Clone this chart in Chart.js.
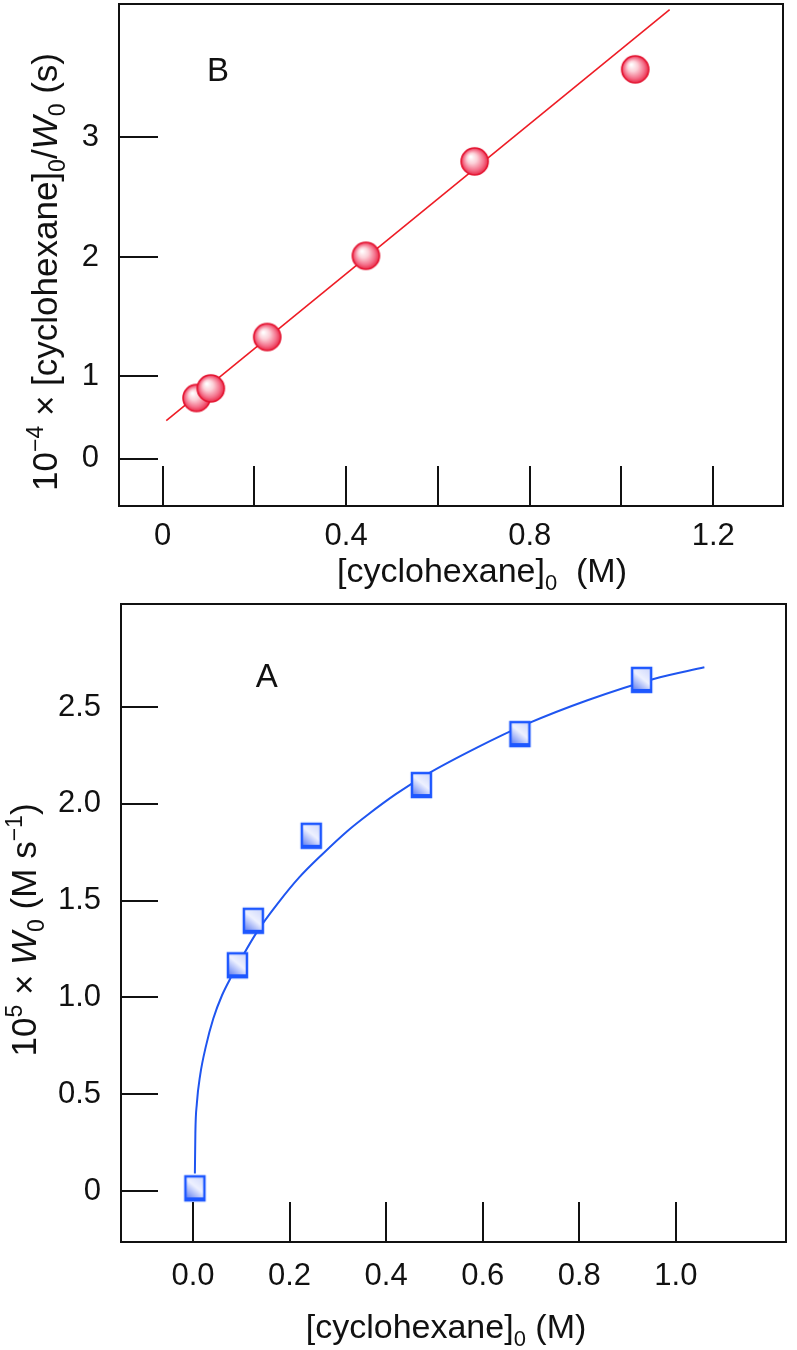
<!DOCTYPE html>
<html>
<head>
<meta charset="utf-8">
<title>Cyclohexane kinetics</title>
<script src="https://cdn.jsdelivr.net/npm/chart.js@4.4.1/dist/chart.umd.min.js"></script>
<style>
  html, body { margin: 0; padding: 0; background: #fff; }
  .panel { position: absolute; left: 0; }
  #chartB { top: 0; }
  #chartA { top: 590px; }
</style>
</head>
<body>
<canvas id="chartB" class="panel" width="797" height="590"></canvas>
<canvas id="chartA" class="panel" width="797" height="760"></canvas>
<script>
// panel B: [cyclohexane]0 / W0 against [cyclohexane]0
const bConc = [0.074, 0.105, 0.228, 0.443, 0.680, 1.030];
const bRatio = [0.82, 0.90, 1.33, 2.01, 2.80, 3.57];
const bFitConc = [0.008, 1.105];
const bFitRatio = [0.63, 4.07];
const bXTicks = [0, 0.2, 0.4, 0.6, 0.8, 1.0, 1.2];
const bXLabels = ['0', '', '0.4', '', '0.8', '', '1.2'];
const bYTicks = [0.31, 1, 2, 3];   // the "0" mark is off the even spacing in the original
const bYLabels = ['0', '1', '2', '3'];

// panel A: W0 against [cyclohexane]0
const aConc = [0.004, 0.092, 0.125, 0.245, 0.473, 0.677, 0.929];
const aRate = [0.014, 1.166, 1.396, 1.835, 2.097, 2.360, 2.640];
const aFitConc = [0.004, 0.005, 0.008, 0.015, 0.027, 0.042, 0.060, 0.080, 0.102, 0.133, 0.177, 0.220, 0.268, 0.320, 0.360, 0.420, 0.483, 0.588, 0.689, 0.817, 0.954, 1.059];
const aFitRate = [0.091, 0.300, 0.450, 0.600, 0.750, 0.890, 1.010, 1.110, 1.210, 1.340, 1.490, 1.620, 1.740, 1.860, 1.940, 2.050, 2.150, 2.290, 2.410, 2.535, 2.645, 2.705];
const aXTicks = [0, 0.2, 0.4, 0.6, 0.8, 1.0];
const aXLabels = ['0.0', '0.2', '0.4', '0.6', '0.8', '1.0'];
const aYTicks = [0, 0.5, 1.0, 1.5, 2.0, 2.5];
const aYLabels = ['0', '0.5', '1.0', '1.5', '2.0', '2.5'];

const FONT = "'Liberation Sans', Arial, Helvetica, sans-serif";
const tickFont = { family: FONT, size: 31 };

function pairs(xs, ys) {
    return xs.map((x, i) => ({ x: x, y: ys[i] }));
}

// shaded marker images used as pointStyle
function makeSphere(r) {
    const c = document.createElement('canvas');
    const s = Math.ceil(r * 2 + 4);
    c.width = s; c.height = s;
    const g = c.getContext('2d');
    const m = s / 2;
    const grad = g.createRadialGradient(m - r * 0.3, m - r * 0.35, r * 0.05, m, m, r);
    grad.addColorStop(0, '#ffffff');
    grad.addColorStop(0.35, '#fcd0d8');
    grad.addColorStop(0.75, '#f4708a');
    grad.addColorStop(1, '#ea2a48');
    g.beginPath();
    g.arc(m, m, r, 0, Math.PI * 2);
    g.fillStyle = grad;
    g.fill();
    g.lineWidth = 1.6;
    g.strokeStyle = '#e3122f';
    g.stroke();
    return c;
}

function makeBlock(w, h) {
    const c = document.createElement('canvas');
    c.width = w + 4; c.height = h + 4;
    const g = c.getContext('2d');
    const x0 = 2, y0 = 2;
    const grad = g.createLinearGradient(x0, y0 + h, x0 + w, y0);
    grad.addColorStop(0, '#3f63ee');
    grad.addColorStop(0.55, '#eef1ff');
    grad.addColorStop(1, '#c9d3fb');
    g.fillStyle = grad;
    g.fillRect(x0, y0, w, h);
    g.strokeStyle = '#1d57ff';
    g.lineWidth = 2.5;
    g.strokeRect(x0 + 1, y0 + 1, w - 2, h - 2);
    g.fillStyle = '#1d57ff';
    g.fillRect(x0, y0 + h - 4, w, 4);
    return c;
}

// text with sub/superscripts and italics, drawn centred at (x, y)
function drawRich(ctx, parts, x, y, angle, size) {
    const small = Math.round(size * 0.66);
    const fontOf = k => (k === 'i' ? 'italic ' + size : (k === 'sub' || k === 'sup') ? small : size) + 'px ' + FONT;
    let total = 0;
    const widths = parts.map(p => { ctx.font = fontOf(p[1]); const w = ctx.measureText(p[0]).width; total += w; return w; });
    ctx.save();
    ctx.translate(x, y);
    ctx.rotate(angle);
    ctx.fillStyle = '#111';
    ctx.textBaseline = 'alphabetic';
    ctx.textAlign = 'left';
    let cx = -total / 2;
    parts.forEach((p, i) => {
        ctx.font = fontOf(p[1]);
        const dy = p[1] === 'sub' ? size * 0.24 : p[1] === 'sup' ? -size * 0.4 : 0;
        ctx.fillText(p[0], cx, dy);
        cx += widths[i];
    });
    ctx.restore();
}

const framePlugin = {
    id: 'frame',
    beforeDatasetsDraw(chart, args, opts) {
        const { ctx, chartArea: a, scales: { x, y } } = chart;
        ctx.save();
        ctx.strokeStyle = '#111';
        ctx.lineWidth = 2;
        ctx.strokeRect(a.left, a.top, a.right - a.left, a.bottom - a.top);
        ctx.beginPath();
        y.ticks.forEach(t => {
            const py = Math.round(y.getPixelForValue(t.value));
            ctx.moveTo(a.left, py);
            ctx.lineTo(a.left + opts.yTick, py);
        });
        x.ticks.forEach(t => {
            const px = Math.round(x.getPixelForValue(t.value));
            ctx.moveTo(px, a.bottom);
            ctx.lineTo(px, a.bottom - opts.xTick);
        });
        ctx.stroke();
        ctx.restore();
    },
    afterDraw(chart, args, opts) {
        const { ctx, chartArea: a, scales: { x, y } } = chart;
        drawRich(ctx, opts.xTitle, a.left + opts.xTitleDx, a.bottom + opts.xTitleDy, 0, 34);
        drawRich(ctx, opts.yTitle, opts.yTitleX, a.top + opts.yTitleDy, -Math.PI / 2, 35);
        ctx.save();
        ctx.font = '33px ' + FONT;
        ctx.fillStyle = '#111';
        ctx.textAlign = 'center';
        ctx.textBaseline = 'middle';
        ctx.fillText(opts.tag, x.getPixelForValue(opts.tagAt[0]), y.getPixelForValue(opts.tagAt[1]));
        ctx.restore();
    }
};

function axis(min, max, tickVals, tickText, pad, size, isX) {
    return {
        type: 'linear',
        min: min,
        max: max,
        grid: { display: false, drawTicks: false, tickLength: 0 },
        border: { display: false },
        ticks: {
            autoSkip: false,
            maxRotation: 0,
            padding: pad,
            color: '#111',
            font: tickFont,
            callback: (v, i) => tickText[i]
        },
        afterBuildTicks: s => { s.ticks = tickVals.map(v => ({ value: v })); },
        afterFit: s => {
            if (isX) s.height = size; else s.width = size;
            s.paddingLeft = 0; s.paddingRight = 0; s.paddingTop = 0; s.paddingBottom = 0;
        }
    };
}

new Chart(document.getElementById('chartB'), {
    type: 'scatter',
    data: {
        datasets: [
            {
                data: pairs(bConc, bRatio),
                pointStyle: makeSphere(13.5),
                pointRadius: 14,
                showLine: false
            },
            {
                data: pairs(bFitConc, bFitRatio),
                showLine: true,
                borderColor: '#ee1c25',
                borderWidth: 1.6,
                pointRadius: 0
            }
        ]
    },
    options: {
        responsive: false,
        animation: false,
        layout: { autoPadding: false, padding: { top: 4, right: 14, left: 0, bottom: 0 } },
        scales: {
            x: axis(-0.095, 1.352, bXTicks, bXLabels, 12, 84, true),
            y: axis(-0.084, 4.117, bYTicks, bYLabels, 20, 119, false)
        },
        plugins: {
            legend: { display: false },
            tooltip: { enabled: false },
            frame: {
                xTick: 40, yTick: 39,
                xTitle: [['[cyclohexane]', ''], ['0', 'sub'], ['  (M)', '']],
                xTitleDx: 363, xTitleDy: 76,
                yTitle: [['10', ''], ['\u22124', 'sup'], [' \u00d7 [cyclohexane]', ''], ['0', 'sub'], ['/', ''], ['W', 'i'], ['0', 'sub'], [' (s)', '']],
                yTitleX: 57, yTitleDy: 268,
                tag: 'B', tagAt: [0.121, 3.552]
            }
        }
    },
    plugins: [framePlugin]
});

new Chart(document.getElementById('chartA'), {
    type: 'scatter',
    data: {
        datasets: [
            {
                data: pairs(aConc, aRate),
                pointStyle: makeBlock(21, 26),
                pointRadius: 13,
                showLine: false
            },
            {
                data: pairs(aFitConc, aFitRate),
                showLine: true,
                borderColor: '#1f55f0',
                borderWidth: 2,
                cubicInterpolationMode: 'monotone',
                pointRadius: 0
            }
        ]
    },
    options: {
        responsive: false,
        animation: false,
        layout: { autoPadding: false, padding: { top: 14, right: 11, left: 0, bottom: 0 } },
        scales: {
            x: axis(-0.149, 1.228, aXTicks, aXLabels, 16, 108, true),
            y: axis(-0.263, 3.032, aYTicks, aYLabels, 20, 121, false)
        },
        plugins: {
            legend: { display: false },
            tooltip: { enabled: false },
            frame: {
                xTick: 40, yTick: 37,
                xTitle: [['[cyclohexane]', ''], ['0', 'sub'], [' (M)', '']],
                xTitleDx: 325, xTitleDy: 96,
                yTitle: [['10', ''], ['5', 'sup'], [' \u00d7 ', ''], ['W', 'i'], ['0', 'sub'], [' (M s', ''], ['\u22121', 'sup'], [')', '']],
                yTitleX: 36, yTitleDy: 326,
                tag: 'A', tagAt: [0.153, 2.652]
            }
        }
    },
    plugins: [framePlugin]
});
</script>
</body>
</html>
